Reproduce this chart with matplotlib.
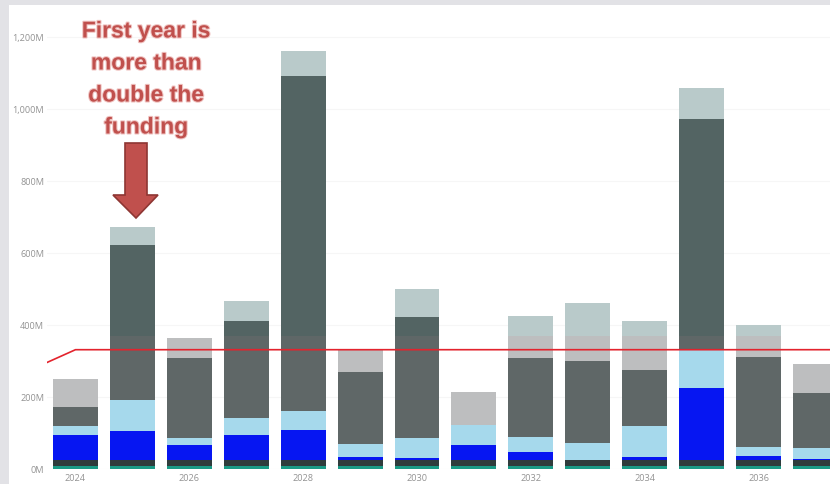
import numpy as np
import matplotlib
matplotlib.use("Agg")
import matplotlib.pyplot as plt
from matplotlib.patches import Rectangle, Polygon
import matplotlib.patheffects as pe

# stacked funding per year (millions), bottom to top
years = np.arange(2024, 2038)
teal_part = [6, 6, 6, 6, 6, 6, 6, 6, 6, 6, 6, 6, 6, 6]
slate_part = [18, 18, 18, 18, 18, 18, 18, 18, 18, 18, 18, 18, 18, 18]
blue_part = [70, 81, 42, 69, 82, 7, 5, 41, 21, 0, 7, 199, 11, 3]
lightblue_part = [25, 86, 19, 46, 55, 37, 55, 55, 43, 46, 88, 107, 25, 29]
darkgrey_part = [51, 431, 221, 271, 928, 201, 338, 2, 219, 229, 155, 641, 249, 154]
lightgrey_part = [80, 48, 57, 56, 70, 61, 78, 90, 117, 160, 135, 86, 91, 80]

# funding level line
line_years = np.arange(2023, 2039)
line_vals = [259, 330, 330, 330, 330, 330, 330, 330, 330, 330, 330, 330, 330, 330, 330, 330]

y_ticks = [0, 200, 400, 600, 800, 1000, 1200]
y_labels = ["0M", "200M", "400M", "600M", "800M", "1,000M", "1,200M"]
x_ticks = [2024, 2026, 2028, 2030, 2032, 2034, 2036]

layers = [teal_part, slate_part, blue_part, lightblue_part, darkgrey_part, lightgrey_part]
colors = ["#1a9a86", "#2f3c3c", "#0616f2", "#a6d9ec", "#5f6767", "#bdbebf"]
# upper part of the picture has a slightly tinted look
tint_colors = ["#1a9a86", "#2f3c3c", "#0616f2", "#a6d9ec", "#536463", "#b9caca"]
tint_from = 369

W, H = 830, 485
fig = plt.figure(figsize=(W / 100, H / 100), dpi=100, facecolor="#e2e2e6")
fig.patches.append(Rectangle((9 / W, 0), 1 - 9 / W, 1 - 6 / H, transform=fig.transFigure,
                             facecolor="white", edgecolor="none", zorder=0))

ax_left = 47 / W
ax_bottom = (H - 469.5) / H
ax_top = 1 - 6 / H
ax = fig.add_axes([ax_left, ax_bottom, 1 - ax_left, ax_top - ax_bottom])
ax.set_zorder(1)
ax.patch.set_alpha(0)

bar_w = 0.79
bottom = np.zeros(len(years))
for vals, c in zip(layers, colors):
    ax.bar(years, vals, bar_w, bottom=bottom, color=c, edgecolor="none", zorder=2)
    bottom = bottom + np.array(vals)

# redraw with tinted colours, clipped above the tint boundary
clip = Rectangle((2020, tint_from), 30, 5000, transform=ax.transData)
bottom = np.zeros(len(years))
for vals, c in zip(layers, tint_colors):
    bars = ax.bar(years, vals, bar_w, bottom=bottom, color=c, edgecolor="none", zorder=3)
    for b in bars:
        b.set_clip_path(clip)
    bottom = bottom + np.array(vals)

ax.plot(line_years, line_vals, color="#e3232d", lw=1.2, zorder=5)

ax.set_xlim(2023.5, 2037.256)
ax.set_ylim(0, 1287.5)
ax.set_yticks(y_ticks)
ax.set_yticklabels(y_labels)
ax.set_xticks(x_ticks)
ax.set_xticklabels([str(x) for x in x_ticks])
ax.tick_params(length=0, labelsize=6.6, labelcolor="#939393", pad=2)
ax.tick_params(axis="y", pad=2)
ax.tick_params(axis="x", pad=3)
for lab in ax.get_xticklabels() + ax.get_yticklabels():
    lab.set_fontfamily("Open Sans")
ax.grid(axis="y", color="#f6f6f6", lw=0.8, zorder=0)
for s in ax.spines.values():
    s.set_visible(False)

# annotation text and arrow
red = "#c0504d"
fig.text(146 / W, 1 - 80 / H, "First year is\nmore than\ndouble the\nfunding",
         ha="center", va="center", fontsize=16.5, fontweight="bold", color=red,
         family="Liberation Sans", linespacing=1.5, zorder=7,
         path_effects=[pe.withStroke(linewidth=1.5, foreground="#f0c4c2")])

arrow_px = [(125, 144), (147, 144), (147, 196), (158, 196), (136, 219),
            (113, 196), (125, 196)]
arrow_fig = [(x / W, 1 - y / H) for x, y in arrow_px]
fig.patches.append(Polygon(arrow_fig, closed=True, transform=fig.transFigure,
                           facecolor=red, edgecolor="#8e3633", lw=1.2, zorder=6))

fig.savefig("out.png", dpi=100, facecolor=fig.get_facecolor())
